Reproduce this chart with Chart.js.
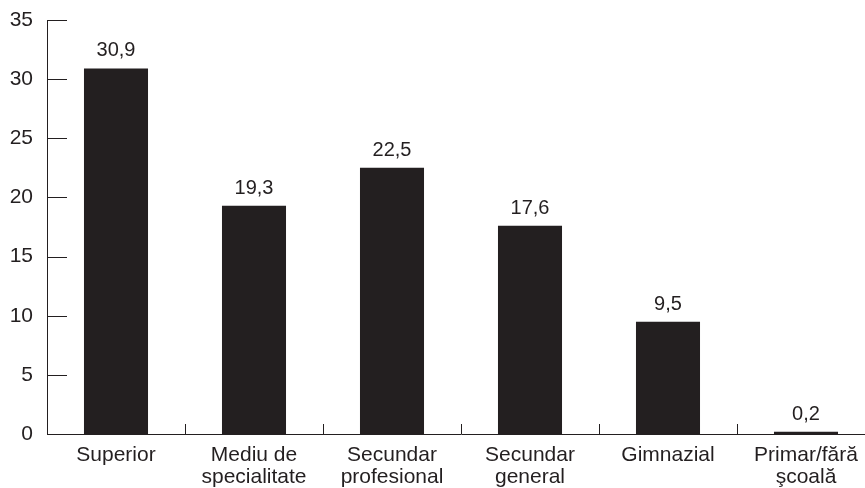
<!DOCTYPE html>
<html>
<head>
<meta charset="utf-8">
<script src="https://cdn.jsdelivr.net/npm/chart.js@4"></script>
<style>
  html, body { margin: 0; padding: 0; background: #fff; overflow: hidden; }
  #wrap { width: 875px; height: 488px; }
</style>
</head>
<body>
<div id="wrap"><canvas id="chart" width="875" height="488"></canvas></div>
<script>
const categories = [
  'Superior',
  ['Mediu de', 'specialitate'],
  ['Secundar', 'profesional'],
  ['Secundar', 'general'],
  'Gimnazial',
  ['Primar/fără', 'şcoală']
];
const values = [30.9, 19.3, 22.5, 17.6, 9.5, 0.2];
const yTicks = [0, 5, 10, 15, 20, 25, 30, 35];

const ink = '#231f20';
const family = '"Liberation Sans", Arial, sans-serif';
const axisFont = { family: family, size: 21, lineHeight: 1.05 };
const valueFontSize = 20;

// tick marks drawn inside the plot area, like the original
const innerTicks = {
  id: 'innerTicks',
  afterDraw(chart) {
    const { ctx, chartArea, scales: { x, y } } = chart;
    ctx.save();
    ctx.strokeStyle = ink;
    ctx.lineWidth = 1;
    ctx.beginPath();
    yTicks.forEach(v => {
      const py = Math.round(y.getPixelForValue(v)) + 0.5;
      ctx.moveTo(chartArea.left, py);
      ctx.lineTo(chartArea.left + 20, py);
    });
    for (let i = 1; i < categories.length; i++) {
      const px = Math.round((x.getPixelForValue(i - 1) + x.getPixelForValue(i)) / 2) + 0.5;
      ctx.moveTo(px, chartArea.bottom);
      ctx.lineTo(px, chartArea.bottom - 10);
    }
    ctx.stroke();
    ctx.restore();
  }
};

// value labels above bars, with decimal comma
const valueLabels = {
  id: 'valueLabels',
  afterDatasetsDraw(chart) {
    const { ctx } = chart;
    const meta = chart.getDatasetMeta(0);
    ctx.save();
    ctx.fillStyle = ink;
    ctx.font = `${valueFontSize}px ${family}`;
    ctx.textAlign = 'center';
    ctx.textBaseline = 'alphabetic';
    meta.data.forEach((bar, i) => {
      ctx.fillText(values[i].toFixed(1).replace('.', ','), bar.x, bar.y - 12);
    });
    ctx.restore();
  }
};

new Chart(document.getElementById('chart'), {
  type: 'bar',
  data: {
    labels: categories,
    datasets: [{
      data: values,
      backgroundColor: ink,
      borderWidth: 0,
      barPercentage: 0.464,
      categoryPercentage: 1
    }]
  },
  options: {
    responsive: false,
    animation: false,
    layout: { padding: { top: 20, left: 0, right: 0, bottom: 0 } },
    plugins: {
      legend: { display: false },
      tooltip: { enabled: false }
    },
    scales: {
      x: {
        grid: { display: false, drawTicks: false },
        border: { display: true, color: ink, width: 1 },
        ticks: {
          color: ink,
          font: axisFont,
          padding: 10,
          maxRotation: 0,
          autoSkip: false
        },
        afterFit: s => { s.height = 54; }
      },
      y: {
        min: 0,
        max: 35,
        grid: { display: false, drawTicks: false },
        border: { display: true, color: ink, width: 1 },
        ticks: {
          stepSize: 5,
          color: ink,
          font: axisFont,
          padding: 14
        },
        afterFit: s => {
          s.width = 47;
          s.paddingTop = 0;
          s.paddingBottom = 0;
        }
      }
    }
  },
  plugins: [innerTicks, valueLabels]
});
</script>
</body>
</html>
